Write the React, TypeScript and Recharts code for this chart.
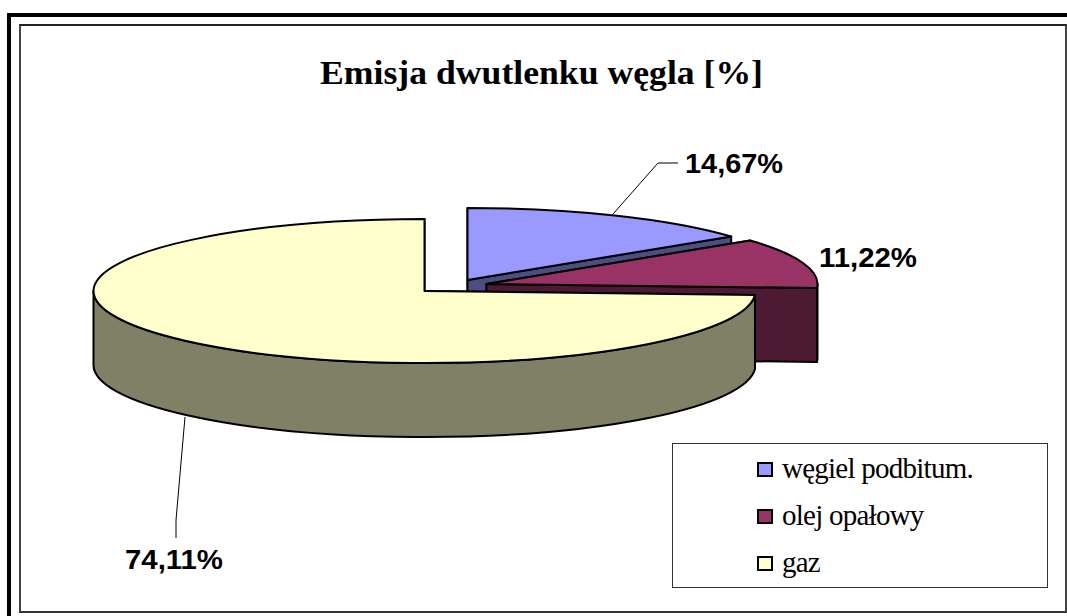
import React from 'react';
import { PieChart, Pie, Cell, Legend } from 'recharts';

const FUELS = ['węgiel podbitum.', 'olej opałowy', 'gaz'];
const SHARES = [14.67, 11.22, 74.11];

const COLORS = ['#9999ff', '#993366', '#ffffcc'];
const SHADES = ['#4d4d80', '#4d1a33', '#808066'];

const chartData = FUELS.map((name, i) => ({ name, value: SHARES[i] }));

// the look of the 3D pie
const SQUASH = 72 / 331;
const DEPTH = 74;
const EXPLODE = [
  { x: 43, y: -11 },
  { x: 62, y: -7 },
  { x: 0, y: 0 },
];

const LABELS = [
  { x: 734, y: 173, line: '613,214 658,163 678,163' },
  { x: 868, y: 267, line: '' },
  { x: 174, y: 569, line: '185,417 176,520 176,538' },
];

const formatShare = (v: number) => v.toFixed(2).replace('.', ',') + '%';

const Slice3D = (props: any) => {
  const { cx, cy, outerRadius, startAngle, endAngle, index } = props;
  const ox = cx + EXPLODE[index].x;
  const oy = cy + EXPLODE[index].y;
  const rx = outerRadius;
  const ry = outerRadius * SQUASH;
  const pt = (deg: number, drop = 0) => {
    const a = (deg * Math.PI) / 180;
    return `${ox + rx * Math.cos(a)} ${oy - ry * Math.sin(a) + drop}`;
  };
  const large = Math.abs(startAngle - endAngle) > 180 ? 1 : 0;

  const wall = (deg: number) =>
    `M${ox} ${oy}L${pt(deg)}L${pt(deg, DEPTH)}L${ox} ${oy + DEPTH}Z`;

  // only the part of the rim in the lower half can be seen
  const rimFrom = Math.min(startAngle, 0);
  const rimTo = Math.max(endAngle, -180);
  const rim =
    rimFrom > rimTo
      ? `M${pt(rimFrom)}A${rx} ${ry} 0 0 1 ${pt(rimTo)}L${pt(rimTo, DEPTH)}A${rx} ${ry} 0 0 0 ${pt(rimFrom, DEPTH)}Z`
      : '';

  const top = `M${ox} ${oy}L${pt(startAngle)}A${rx} ${ry} 0 ${large} 1 ${pt(endAngle)}Z`;

  return (
    <g stroke="#000" strokeWidth={2} strokeLinejoin="round">
      <path d={wall(startAngle)} fill={SHADES[index]} />
      <path d={wall(endAngle)} fill={SHADES[index]} />
      {rim && <path d={rim} fill={SHADES[index]} />}
      <path d={top} fill={COLORS[index]} />
    </g>
  );
};

const renderLabel = (props: any) => {
  const spot = LABELS[props.index];
  return (
    <g key={props.index}>
      {spot.line && <polyline points={spot.line} fill="none" stroke="#000" strokeWidth={1} />}
      <text
        x={spot.x}
        y={spot.y}
        textAnchor="middle"
        fontFamily="'Liberation Sans', Arial, sans-serif"
        fontWeight={700}
        fontSize={27}
        textLength={98}
        lengthAdjust="spacingAndGlyphs"
        fill="#000"
      >
        {formatShare(props.value)}
      </text>
    </g>
  );
};

const LegendBox = ({ payload }: any) => (
  <div
    style={{
      boxSizing: 'border-box',
      width: 376,
      height: 145,
      border: '1px solid #333',
      background: '#fff',
      position: 'relative',
    }}
  >
    {(payload || []).map((entry: any, i: number) => (
      <div key={entry.value}>
        <div
          style={{
            position: 'absolute',
            left: 84,
            top: 18 + i * 47,
            width: 16,
            height: 15,
            boxSizing: 'border-box',
            border: '2px solid #000',
            background: entry.color,
          }}
        />
        <div
          style={{
            position: 'absolute',
            left: 109,
            top: 9 + i * 47,
            fontFamily: "'Liberation Serif', 'Times New Roman', serif",
            fontSize: 29,
            letterSpacing: -0.75,
            lineHeight: '30px',
            color: '#000',
            whiteSpace: 'nowrap',
          }}
        >
          {entry.value}
        </div>
      </div>
    ))}
  </div>
);

export default function App() {
  return (
    <div style={{ position: 'absolute', left: 0, top: 0, width: 1067, height: 616, background: '#fff', overflow: 'hidden' }}>
      {/* outer band runs off the image on the right and at the bottom */}
      <div style={{ position: 'absolute', left: 7, top: 13, width: 1060, height: 603, borderTop: '4px solid #000', borderLeft: '4px solid #000', boxSizing: 'border-box' }} />
      <div style={{ position: 'absolute', left: 19, top: 24, width: 1048, height: 589, borderTop: '2px solid #222', borderLeft: '2px solid #444', borderRight: '2px solid #444', borderBottom: '2px solid #333', boxSizing: 'border-box' }} />
      <div style={{ position: 'absolute', left: 0, top: 0 }}>
        <PieChart width={1067} height={616} margin={{ top: 0, right: 0, bottom: 0, left: 0 }}>
          <text
            x={320}
            y={84}
            fontFamily="'Liberation Serif', 'Times New Roman', serif"
            fontWeight={700}
            fontSize={34}
            textLength={443}
            lengthAdjust="spacingAndGlyphs"
            fill="#000"
          >
            Emisja dwutlenku węgla [%]
          </text>
          <Pie
            data={chartData}
            dataKey="value"
            nameKey="name"
            cx={424.5}
            cy={291}
            innerRadius={0}
            outerRadius={331}
            startAngle={90}
            endAngle={-270}
            isAnimationActive={false}
            shape={Slice3D}
            label={renderLabel}
            labelLine={false}
            stroke="none"
          >
            {chartData.map((entry, i) => (
              <Cell key={entry.name} fill={COLORS[i]} />
            ))}
          </Pie>
          <Legend
            itemSorter={null}
            content={<LegendBox />}
            wrapperStyle={{ position: 'absolute', left: 672, top: 443, width: 376, height: 145, bottom: 'auto' }}
          />
        </PieChart>
      </div>
    </div>
  );
}
